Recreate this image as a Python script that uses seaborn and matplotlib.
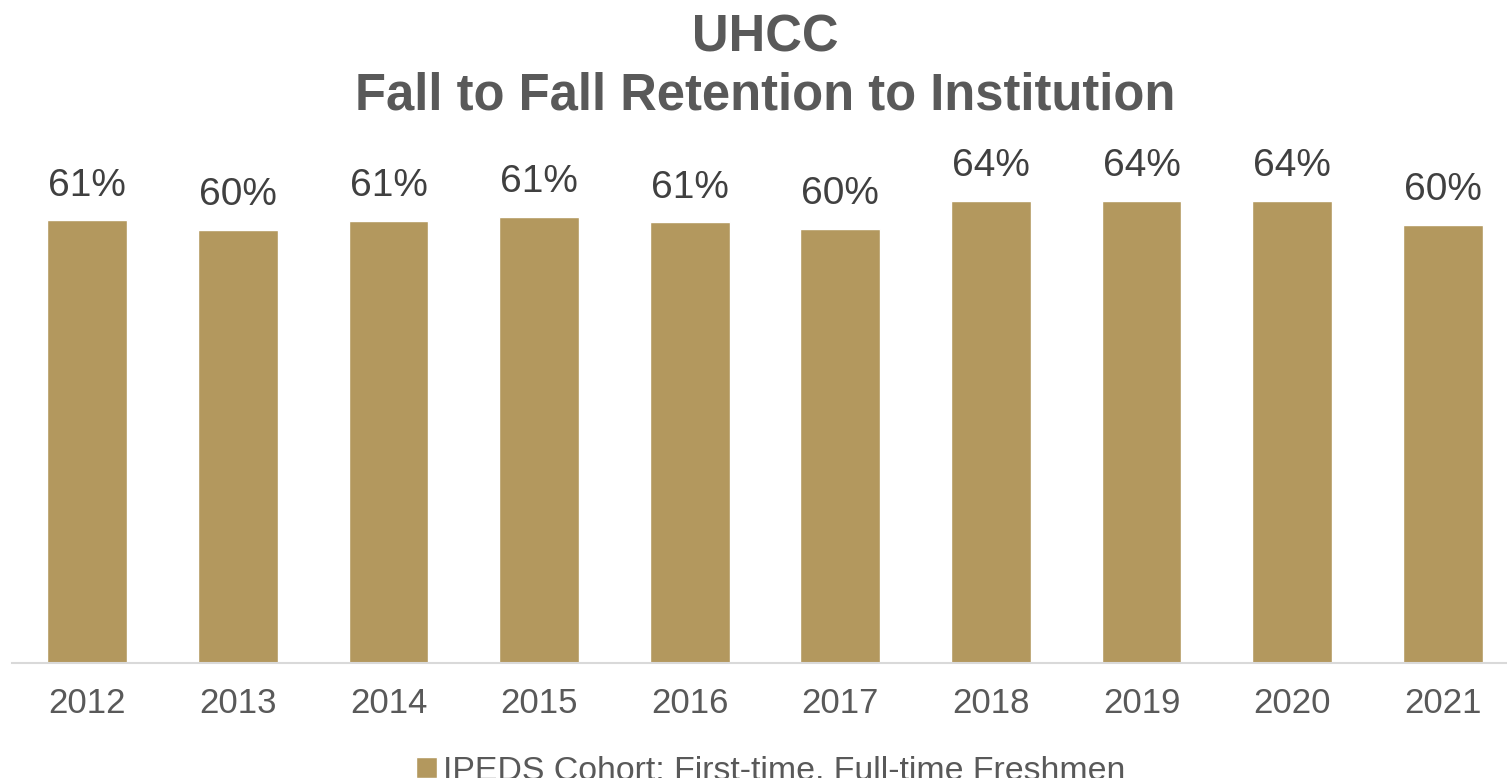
import pandas as pd
import seaborn as sns
import matplotlib.pyplot as plt

# retention rates
years = ['2012', '2013', '2014', '2015', '2016', '2017', '2018', '2019', '2020', '2021']
retention = [0.609, 0.596, 0.608, 0.614, 0.606, 0.597, 0.636, 0.636, 0.636, 0.603]
series_name = 'IPEDS Cohort: First-time, Full-time Freshmen'
title_lines = ['UHCC', 'Fall to Fall Retention to Institution']

df = pd.DataFrame({'Year': years, 'Retention': retention})

sns.set_style('white')
plt.rcParams['font.family'] = ['Liberation Sans', 'DejaVu Sans']

W, H = 1507, 778
fig = plt.figure(figsize=(W / 100, H / 100), dpi=100)
# plot area in pixels: left 12, right 1518, top 140, bottom 663
ax = fig.add_axes([12 / W, 1 - 663 / H, 1506 / W, (663 - 140) / H])

sns.barplot(data=df, x='Year', y='Retention', color='#B3985E', width=0.53,
            saturation=1, label=series_name, ax=ax)

ax.set_xlim(-0.5, 9.5)
ax.set_ylim(0, 0.7194)

# data labels
for i, v in enumerate(df['Retention']):
    ax.annotate(f'{round(v * 100):.0f}%', (i, v), xytext=(0, 12), textcoords='offset points',
                ha='center', va='bottom', fontsize=28, color='#404040')

ax.set_xlabel('')
ax.set_ylabel('')
ax.set_yticks([])
ax.tick_params(axis='x', length=0, labelsize=25, labelcolor='#595959', pad=17)
for s in ['top', 'left', 'right']:
    ax.spines[s].set_visible(False)
ax.spines['bottom'].set_color('#D9D9D9')
ax.spines['bottom'].set_linewidth(1.5)

# two-line bold title
for line, base in zip(title_lines, [51, 109]):
    fig.text(765 / W, 1 - base / H, line, ha='center', va='baseline',
             fontsize=36.5, fontweight='bold', color='#595959')

ax.legend(loc='center', bbox_to_anchor=(771 / W, 1 - 771 / H), bbox_transform=fig.transFigure,
          frameon=False, fontsize=24.4, labelcolor='#595959', handlelength=0.6, handleheight=0.6,
          handletextpad=0.2)

fig.savefig('out.png', dpi=100)
